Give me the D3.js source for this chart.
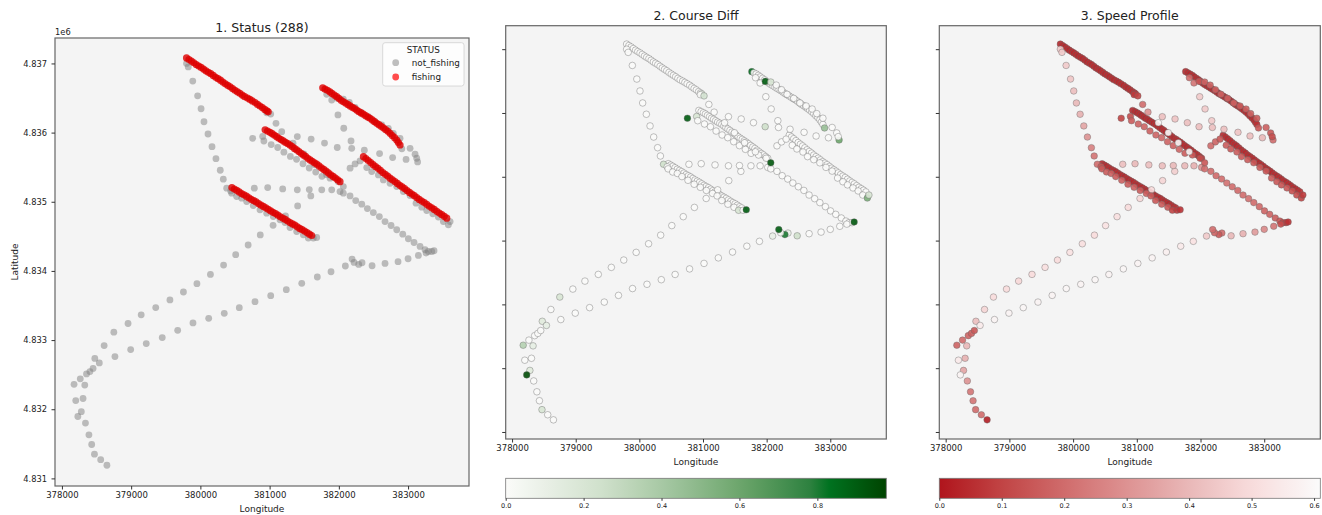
<!DOCTYPE html>
<html>
<head>
<meta charset="utf-8">
<script src="https://cdn.jsdelivr.net/npm/d3@7"></script>
<style>
  body { margin: 0; background: #fff; }
  text { font-family: "DejaVu Sans", sans-serif; fill: #222; }
</style>
</head>
<body>
<svg id="chart" width="1322" height="515"></svg>
<script>
// each point: [longitude, latitude, speed, courseDiff]
const hookOut = [
  [378650,4831190,0.02,0],[378560,4831270,0.20,0],[378470,4831350,0.20,0.20],[378430,4831490,0.22,0],
  [378390,4831630,0.22,0],[378340,4831800,0.30,0],[378280,4831965,0.35,0.15],[378305,4832155,0.38,0],
  [378330,4832350,0.40,0.12],[378475,4832735,0.42,0.15],[378610,4832920,0.48,0],[378750,4833115,0.50,0.20]
];
const hookSlow = [
  [378175,4832360,0.18,0.35],[378265,4832440,0.20,0],[378355,4832510,0.18,0],[378405,4832545,0.17,0],[378450,4832590,0.15,0]
];
const upperBranch = [
  [378955,4833240,0.50,0],[379145,4833365,0.49,0],[379355,4833470,0.50,0],[379560,4833580,0.51,0],
  [379755,4833695,0.50,0],[379950,4833815,0.52,0],[380145,4833950,0.51,0],[380335,4834085,0.50,0],
  [380510,4834235,0.52,0],[380690,4834375,0.51,0],[380865,4834520,0.50,0],[381050,4834660,0.49,0],
  [381230,4834795,0.50,0],[381405,4834940,0.48,0],[381595,4835085,0.46,0]
];
const leftDescent = [
  [379800,4837000,0.45,0],[379825,4836950,0.45,0],[379890,4836745,0.45,0],[379960,4836532,0.44,0],
  [380010,4836345,0.42,0],[380052,4836157,0.40,0],[380110,4835980,0.38,0],[380168,4835797,0.35,0],
  [380225,4835623,0.30,0],[380287,4835456,0.25,0],[380331,4835326,0.22,0],[380380,4835196,0.20,0.25],
  [380438,4835157,0.15,0]
];
const rowSouth = [
  [380779,4835196,0.42,0],[380972,4835205,0.40,0],[381189,4835186,0.42,0],[381400,4835172,0.41,0],
  [381573,4835176,0.40,0],[381753,4835172,0.40,0],[381897,4835172,0.38,0],[382017,4835147,0.30,0]
];
const diagonal = [
  [382065,4835124,0.20,0],[382162,4835085,0.20,0],[382244,4835017,0.19,0],[382331,4834965,0.20,0],
  [382412,4834902,0.21,0],[382498,4834844,0.20,0],[382585,4834786,0.19,0],[382667,4834714,0.20,0],
  [382754,4834657,0.21,0],[382836,4834595,0.20,0],[382923,4834532,0.19,0],[383004,4834465,0.18,0],
  [383086,4834411,0.18,0],[383173,4834354,0.16,0],[383245,4834306,0.14,0],[383293,4834281,0.10,0],
  [383342,4834281,0.08,0],[383375,4834292,0.06,0.92]
];
const lowerBranch = [
  [383260,4834258,0.12,0],[383149,4834224,0.22,0],[383000,4834176,0.27,0],[382855,4834133,0.32,0],
  [382667,4834108,0.38,0],[382480,4834075,0.40,0.25],[382335,4834118,0.20,0.10],[382287,4834094,0.15,0.80],
  [382220,4834123,0.18,0.05],[382191,4834172,0.20,0.90],[382094,4834071,0.45,0.10],[381887,4833988,0.52,0],
  [381689,4833912,0.55,0],[381464,4833820,0.57,0],[381241,4833729,0.58,0],[381016,4833642,0.58,0],
  [380789,4833556,0.59,0],[380562,4833469,0.58,0],[380345,4833387,0.59,0],[380120,4833315,0.58,0],
  [379893,4833248,0.59,0],[379672,4833141,0.58,0],[379449,4833036,0.58,0],[379218,4832949,0.59,0],
  [378993,4832863,0.58,0],[378766,4832762,0.58,0],[378540,4832670,0.55,0.12]
];
const hookReturn = [[378200,4832125,0.55,0],[378230,4831895,0.58,0.95]];
const seg1Exit = [[380958,4836287,0.08,0],[381016,4836268,0.10,0.22],[381092,4836134,0.20,0],[381175,4836013,0.30,0]];
const rowNorth = [
  [381400,4835942,0.42,0],[381600,4835906,0.43,0],[381793,4835848,0.42,0],[381977,4835785,0.42,0.25],
  [382176,4835879,0.45,0],[382186,4835773,0.42,0],[382368,4835745,0.42,0],[382588,4835697,0.43,0],
  [382777,4835639,0.42,0],[382971,4835612,0.40,0],[383138,4835576,0.20,0.60]
];
const scattered = [[381987,4836255,0.45,0],[382071,4836063,0.45,0]];
const seg2Side = [
  [381825,4836553,0.20,0],[381897,4836470,0.22,0],[381978,4836495,0.15,0.90],[382065,4836485,0.18,0.20],
  [382151,4836437,0.18,0],[382234,4836365,0.17,0],[382321,4836293,0.18,0],[382426,4836229,0.17,0],
  [382523,4836157,0.18,0],[382620,4836110,0.16,0],[382715,4836062,0.17,0],[382787,4835990,0.18,0],
  [382884,4835918,0.16,0],[382910,4835765,0.15,0.45],[383029,4835773,0.17,0],[383101,4835687,0.15,0],
  [383125,4835629,0.12,0]
];
const seg3Side = [
  [380755,4835918,0.10,0.90],[380900,4835945,0.12,0.20],[380917,4835879,0.16,0],[381023,4835827,0.18,0],
  [381117,4835785,0.18,0],[381206,4835717,0.17,0],[381300,4835655,0.18,0],[381389,4835613,0.19,0],
  [381482,4835550,0.18,0],[381572,4835488,0.17,0],[381666,4835430,0.18,0],[381756,4835368,0.16,0],
  [381873,4835341,0.15,0],[381993,4835291,0.12,0],[382065,4835219,0.15,0.92]
];
const seg3Fast = [[381338,4835847,0.60,0],[381494,4835691,0.60,0],[381652,4835534,0.60,0],[381823,4835392,0.59,0]];
const seg4Side = [
  [382162,4835485,0.20,0],[382234,4835547,0.18,0],[382306,4835590,0.15,0],[382403,4835494,0.16,0],
  [382475,4835436,0.15,0],[382571,4835388,0.16,0],[382643,4835316,0.15,0],[382740,4835268,0.16,0],
  [382836,4835219,0.15,0],[382932,4835147,0.16,0],[383029,4835089,0.15,0],[383115,4834980,0.16,0],
  [383198,4834922,0.15,0],[383270,4834873,0.14,0],[383357,4834825,0.15,0],[383438,4834778,0.13,0],
  [383510,4834714,0.12,0],[383582,4834667,0.10,0.55],[383607,4834714,0.08,0.20]
];
const seg5Side = [
  [380452,4835124,0.15,0],[380524,4835075,0.16,0],[380597,4835052,0.17,0],[380669,4835003,0.16,0],
  [380764,4834945,0.17,0],[380861,4834883,0.16,0],[380958,4834835,0.17,0],[381053,4834786,0.16,0],
  [381150,4834739,0.17,0],[381222,4834700,0.16,0],[381295,4834628,0.15,0],[381391,4834570,0.16,0],
  [381487,4834522,0.15,0],[381559,4834475,0.10,0.20],[381631,4834475,0.08,0],[381680,4834483,0.06,0.90]
];

// fishing passes (dense fixes)
const seg1 = [
  [379800,4837080,0.04,0],[379835,4837057,0.05,0],[379870,4837035,0.04,0],[379905,4837010,0.05,0],
  [379940,4836985,0.04,0],[379975,4836963,0.05,0],[380010,4836942,0.04,0],[380045,4836918,0.05,0],
  [380080,4836893,0.04,0],[380115,4836872,0.05,0],[380150,4836852,0.04,0],[380185,4836827,0.05,0],
  [380220,4836800,0.04,0],[380255,4836780,0.05,0],[380290,4836758,0.04,0],[380325,4836732,0.05,0],
  [380360,4836706,0.04,0],[380395,4836684,0.05,0],[380430,4836662,0.04,0],[380465,4836636,0.05,0],
  [380500,4836611,0.04,0],[380535,4836590,0.05,0],[380570,4836568,0.04,0],[380605,4836543,0.05,0],
  [380640,4836520,0.04,0],[380680,4836500,0.05,0],[380715,4836480,0.04,0],[380750,4836458,0.05,0],
  [380790,4836435,0.04,0],[380825,4836408,0.05,0],[380860,4836385,0.04,0],[380895,4836362,0.05,0],
  [380930,4836335,0.05,0],[380960,4836315,0.06,0],[380980,4836300,0.06,0.15]
];
const seg2 = [
  [381767,4836648,0.04,0.85],[381800,4836630,0.05,0],[381835,4836612,0.04,0],[381870,4836590,0.05,0],
  [381900,4836566,0.04,0],[381935,4836543,0.05,0],[381969,4836520,0.04,0],[382000,4836495,0.05,0],
  [382033,4836468,0.04,0],[382065,4836446,0.05,0],[382097,4836428,0.04,0],[382130,4836407,0.05,0],
  [382162,4836386,0.04,0],[382195,4836367,0.05,0],[382226,4836348,0.04,0],[382258,4836326,0.05,0],
  [382290,4836303,0.04,0],[382322,4836285,0.05,0],[382354,4836266,0.04,0],[382387,4836245,0.05,0],
  [382419,4836224,0.04,0],[382451,4836206,0.05,0],[382483,4836184,0.04,0],[382515,4836158,0.05,0],
  [382547,4836134,0.04,0],[382579,4836115,0.05,0],[382611,4836092,0.04,0],[382643,4836069,0.05,0],
  [382675,4836045,0.04,0],[382708,4836019,0.05,0],[382740,4835990,0.04,0],[382772,4835958,0.05,0],
  [382805,4835927,0.04,0],[382836,4835893,0.05,0],[382860,4835857,0.05,0],[382884,4835821,0.06,0]
];
const seg3 = [
  [380935,4836040,0.04,0],[380970,4836022,0.05,0],[381006,4836004,0.04,0],[381038,4835985,0.05,0],
  [381070,4835962,0.04,0],[381102,4835941,0.05,0],[381134,4835918,0.04,0],[381166,4835900,0.05,0],
  [381198,4835879,0.04,0],[381230,4835858,0.05,0],[381263,4835840,0.04,0],[381295,4835821,0.05,0],
  [381327,4835797,0.04,0],[381359,4835771,0.05,0],[381391,4835749,0.04,0],[381423,4835727,0.05,0],
  [381455,4835701,0.04,0],[381487,4835677,0.05,0],[381519,4835655,0.04,0],[381551,4835629,0.05,0],
  [381584,4835605,0.04,0],[381616,4835586,0.05,0],[381648,4835564,0.04,0],[381680,4835543,0.05,0],
  [381714,4835518,0.04,0],[381748,4835491,0.05,0],[381782,4835467,0.04,0],[381815,4835444,0.05,0],
  [381849,4835417,0.04,0],[381883,4835390,0.05,0],[381917,4835366,0.04,0],[381950,4835343,0.05,0],
  [381984,4835316,0.05,0],[382017,4835291,0.06,0]
];
const seg4 = [
  [382355,4835652,0.04,0],[382390,4835624,0.05,0],[382425,4835597,0.04,0],[382460,4835567,0.05,0],
  [382495,4835537,0.04,0],[382530,4835510,0.05,0],[382565,4835484,0.04,0],[382600,4835454,0.05,0],
  [382635,4835423,0.04,0],[382670,4835397,0.05,0],[382705,4835371,0.04,0],[382740,4835341,0.05,0],
  [382775,4835316,0.04,0],[382810,4835292,0.05,0],[382845,4835265,0.04,0],[382880,4835237,0.05,0],
  [382915,4835214,0.04,0],[382950,4835190,0.05,0],[382985,4835163,0.04,0],[383020,4835135,0.05,0],
  [383055,4835112,0.04,0],[383090,4835088,0.05,0],[383125,4835061,0.04,0],[383161,4835034,0.05,0],
  [383197,4835011,0.04,0],[383234,4834989,0.05,0],[383270,4834962,0.04,0],[383306,4834935,0.05,0],
  [383342,4834912,0.04,0],[383378,4834889,0.05,0],[383414,4834862,0.04,0],[383451,4834836,0.05,0],
  [383487,4834813,0.04,0],[383523,4834790,0.05,0],[383559,4834763,0.06,0]
];
const seg5 = [
  [380455,4835205,0.04,0],[380490,4835184,0.05,0],[380525,4835165,0.04,0],[380560,4835142,0.05,0],
  [380595,4835119,0.04,0],[380630,4835100,0.05,0],[380665,4835081,0.04,0],[380700,4835058,0.05,0],
  [380735,4835035,0.04,0],[380770,4835016,0.05,0],[380805,4834997,0.04,0],[380840,4834974,0.05,0],
  [380875,4834951,0.04,0],[380910,4834932,0.05,0],[380945,4834913,0.04,0],[380980,4834890,0.05,0],
  [381015,4834867,0.04,0],[381050,4834848,0.05,0],[381085,4834829,0.04,0],[381120,4834806,0.05,0],
  [381155,4834783,0.04,0],[381190,4834764,0.05,0],[381225,4834745,0.04,0],[381260,4834722,0.05,0],
  [381295,4834699,0.04,0],[381330,4834680,0.05,0],[381365,4834661,0.04,0],[381400,4834638,0.05,0],
  [381435,4834615,0.04,0],[381470,4834596,0.05,0],[381505,4834577,0.04,0],[381540,4834554,0.05,0],
  [381575,4834531,0.05,0],[381608,4834512,0.06,0]
];

const transitLegs = [hookOut, hookSlow, upperBranch, leftDescent, rowSouth, diagonal, lowerBranch, hookReturn,
  seg1Exit, rowNorth, scattered, seg2Side, seg3Side, seg3Fast, seg4Side, seg5Side];
const fishingLegs = [seg1, seg2, seg3, seg4, seg5];

const xTicks = [378000, 379000, 380000, 381000, 382000, 383000];
const yTicks = [4831000, 4832000, 4833000, 4834000, 4835000, 4836000, 4837000];
const courseTicks = [0.0, 0.2, 0.4, 0.6, 0.8];
const speedTicks = [0.0, 0.1, 0.2, 0.3, 0.4, 0.5, 0.6];
const courseMax = 0.977;
const speedMax = 0.61;

const transit = transitLegs.flat();
const fishing = fishingLegs.flat();

const greens = d3.scaleLinear()
  .domain([0, 0.25, 0.41, 0.6, 0.78, 0.83, courseMax])
  .range(['#fbfbf9', '#cfe0cb', '#a5c7a2', '#6da66c', '#2f8140', '#007220', '#004400'])
  .clamp(true);
const reds = d3.scaleLinear()
  .domain([0, 0.1, 0.2, 0.3, 0.4, 0.5, speedMax])
  .range(['#b0141c', '#c14444', '#d06c6c', '#dd9292', '#e9b8b8', '#f8dcdc', '#fbfbfb'])
  .clamp(true);

const svg = d3.select('#chart');
const xDomain = [377900, 383880];
const yDomain = [4830890, 4837368];

const panels = [
  { title: '1. Status (288)', left: 55, right: 469, top: 38, bottom: 486, titleY: 32, labels: true },
  { title: '2. Course Diff', left: 505.7, right: 886.3, top: 25.7, bottom: 439, titleY: 20, labels: false,
    color: greens, field: 3, cbTicks: courseTicks, cbMax: courseMax },
  { title: '3. Speed Profile', left: 939.3, right: 1320.3, top: 25.7, bottom: 439, titleY: 20, labels: false,
    color: reds, field: 2, cbTicks: speedTicks, cbMax: speedMax }
];

panels.forEach((p, i) => {
  const x = d3.scaleLinear().domain(xDomain).range([p.left, p.right]);
  const y = d3.scaleLinear().domain(yDomain).range([p.bottom, p.top]);
  const g = svg.append('g');

  g.append('rect')
    .attr('x', p.left).attr('y', p.top)
    .attr('width', p.right - p.left).attr('height', p.bottom - p.top)
    .attr('fill', '#f4f4f4');

  const clipId = 'clip' + i;
  svg.append('clipPath').attr('id', clipId).append('rect')
    .attr('x', p.left).attr('y', p.top)
    .attr('width', p.right - p.left).attr('height', p.bottom - p.top);
  const plot = g.append('g').attr('clip-path', `url(#${clipId})`);

  if (i === 0) {
    plot.selectAll('.nf').data(transit).enter().append('circle')
      .attr('cx', d => x(d[0])).attr('cy', d => y(d[1])).attr('r', 3.4)
      .attr('fill', '#808080').attr('fill-opacity', 0.5);
    plot.selectAll('.f').data(fishing).enter().append('circle')
      .attr('cx', d => x(d[0])).attr('cy', d => y(d[1])).attr('r', 3.6)
      .attr('fill', '#dd0000').attr('fill-opacity', 0.8);
  } else {
    plot.selectAll('.pt').data(fishing.concat(transit)).enter().append('circle')
      .attr('cx', d => x(d[0])).attr('cy', d => y(d[1])).attr('r', 3.3)
      .attr('fill', d => p.color(d[p.field])).attr('fill-opacity', 0.9)
      .attr('stroke', '#666').attr('stroke-width', 0.5).attr('stroke-opacity', 0.8);
  }

  g.append('rect')
    .attr('x', p.left).attr('y', p.top)
    .attr('width', p.right - p.left).attr('height', p.bottom - p.top)
    .attr('fill', 'none').attr('stroke', '#666').attr('stroke-width', 1.2);

  // x axis
  const xa = g.append('g').attr('transform', `translate(0,${p.bottom})`)
    .call(d3.axisBottom(x).tickValues(xTicks).tickFormat(d3.format('d')).tickSize(3.5).tickPadding(2.5));
  xa.select('.domain').remove();
  xa.selectAll('line').attr('stroke', '#333');
  xa.selectAll('text').attr('font-size', 8.5).attr('fill', '#222').style('font-family', '"DejaVu Sans", sans-serif');

  // y axis
  const ya = g.append('g').attr('transform', `translate(${p.left},0)`)
    .call(d3.axisLeft(y).tickValues(yTicks).tickSize(3.5).tickPadding(4.5)
      .tickFormat(p.labels ? d => (d / 1e6).toFixed(3) : ''));
  ya.select('.domain').remove();
  ya.selectAll('line').attr('stroke', '#333');
  ya.selectAll('text').attr('font-size', 8.3).attr('fill', '#222').style('font-family', '"DejaVu Sans", sans-serif');

  g.append('text').attr('x', (p.left + p.right) / 2).attr('y', p.titleY)
    .attr('text-anchor', 'middle').attr('font-size', 12.5).text(p.title);

  g.append('text').attr('x', (p.left + p.right) / 2).attr('y', p.bottom + 26)
    .attr('text-anchor', 'middle').attr('font-size', 9).text('Longitude');

  if (i === 0) {
    g.append('text').attr('x', p.left).attr('y', 35).attr('font-size', 8.3).text('1e6');
    g.append('text').attr('transform', `translate(18,${(p.top + p.bottom) / 2}) rotate(-90)`)
      .attr('text-anchor', 'middle').attr('font-size', 9).text('Latitude');

    // legend
    const lg = g.append('g');
    lg.append('rect').attr('x', 382.7).attr('y', 42.7).attr('width', 81.3).attr('height', 43.3)
      .attr('rx', 2.5).attr('fill', '#fff').attr('fill-opacity', 0.8)
      .attr('stroke', '#d0d0d0').attr('stroke-width', 0.8);
    lg.append('text').attr('x', 423.3).attr('y', 52.5).attr('text-anchor', 'middle')
      .attr('font-size', 8.8).text('STATUS');
    const entries = [['not_fishing', '#808080', 0.5, 62.7], ['fishing', '#ff0000', 0.7, 77]];
    entries.forEach(e => {
      lg.append('circle').attr('cx', 395.7).attr('cy', e[3]).attr('r', 3.4)
        .attr('fill', e[1]).attr('fill-opacity', e[2]);
      lg.append('text').attr('x', 411.7).attr('y', e[3] + 3).attr('font-size', 8.8).text(e[0]);
    });
  } else {
    // colorbar
    const cbTop = 478.3, cbH = 20;
    const gradId = 'grad' + i;
    const grad = svg.append('defs').append('linearGradient').attr('id', gradId);
    d3.range(0, 1.0001, 0.05).forEach(t => {
      grad.append('stop').attr('offset', t).attr('stop-color', p.color(t * p.cbMax));
    });
    g.append('rect').attr('x', p.left).attr('y', cbTop).attr('width', p.right - p.left).attr('height', cbH)
      .attr('fill', `url(#${gradId})`).attr('stroke', '#777').attr('stroke-width', 0.8);
    const cx = d3.scaleLinear().domain([0, p.cbMax]).range([p.left, p.right]);
    const ca = g.append('g').attr('transform', `translate(0,${cbTop + cbH})`)
      .call(d3.axisBottom(cx).tickValues(p.cbTicks).tickFormat(d3.format('.1f')).tickSize(2.5).tickPadding(3));
    ca.select('.domain').remove();
    ca.selectAll('line').attr('stroke', '#333');
    ca.selectAll('text').attr('font-size', 6.5).attr('fill', '#222').style('font-family', '"DejaVu Sans", sans-serif');
  }
});
</script>
</body>
</html>
